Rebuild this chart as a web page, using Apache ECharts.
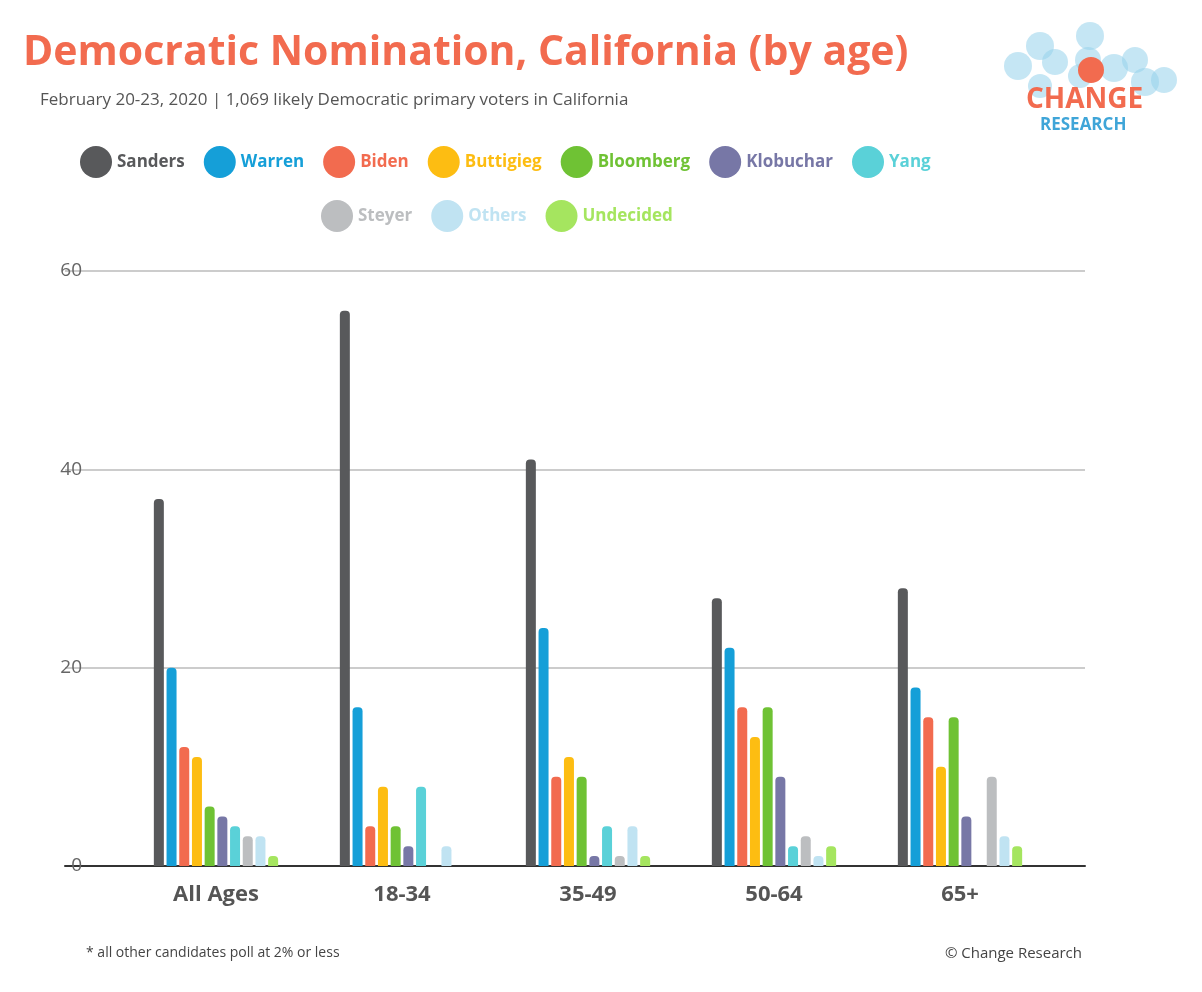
<!DOCTYPE html>
<html><head><meta charset="utf-8">
<script src="https://cdn.jsdelivr.net/npm/echarts@6/dist/echarts.min.js"></script>
<style>html,body{margin:0;padding:0;background:#fff}#c{width:1202px;height:992px}</style>
</head><body><div id="c"></div>
<script>
const categories = ['All Ages','18-34','35-49','50-64','65+'];
const candidates = ['Sanders','Warren','Biden','Buttigieg','Bloomberg','Klobuchar','Yang','Steyer','Others','Undecided'];
const Sanders   = [37,56,41,27,28];
const Warren    = [20,16,24,22,18];
const Biden     = [12,4,9,16,15];
const Buttigieg = [11,8,11,13,10];
const Bloomberg = [6,4,9,16,15];
const Klobuchar = [5,2,1,9,5];
const Yang      = [4,8,4,2,0];
const Steyer    = [3,0,1,3,9];
const Others    = [3,2,4,1,3];
const Undecided = [1,0,1,2,2];
const yTicks = [0,20,40,60];
const values = [Sanders,Warren,Biden,Buttigieg,Bloomberg,Klobuchar,Yang,Steyer,Others,Undecided];
const colors = ['#58595b','#159fd8','#f26b4f','#fdbd12','#6fc234','#7777a6','#5ad1d8','#bcbec0','#c0e3f2','#a5e55f'];
const F = '"Open Sans"';

const series = candidates.map((n,i)=>({
  name:n, type:'bar', xAxisIndex:1, yAxisIndex:1, data:values[i],
  barWidth:10, barGap:'27%', itemStyle:{color:colors[i], borderRadius:[4,4,0,0]}
}));
series.push({type:'bar',xAxisIndex:0,yAxisIndex:0,data:[],silent:true});

const legendText = (i)=>({color:colors[i],fontWeight:'bold',fontSize:17,fontFamily:F});
const legItem = (i)=>({name:candidates[i],textStyle:legendText(i)});

const bubbles = [[1018,66,14],[1040,46,14],[1055,62,13],[1090,36,14],[1088,60,13],[1080,76,12],[1114,68,14],[1135,60,13],[1145,82,14],[1164,80,13],[1040,86,12]];
const graphic = bubbles.map(b=>({type:'circle',shape:{cx:b[0],cy:b[1],r:b[2]},style:{fill:'rgba(150,210,235,0.55)'}}));
graphic.push({type:'circle',shape:{cx:1091,cy:70,r:13},style:{fill:'#f26b4f'}});
graphic.push({type:'text',left:1026,top:86,style:{text:'CHANGE',fill:'#f26b4f',font:'bold 28px '+F}});
graphic.push({type:'text',left:1040,top:117,style:{text:'RESEARCH',fill:'#3fa5d8',font:'bold 17px '+F}});
graphic.push({type:'text',left:40,top:92,style:{text:'February 20-23, 2020 | 1,069 likely Democratic primary voters in California',fill:'#555',font:'17px '+F}});
graphic.push({type:'text',left:86,top:946,style:{text:'* all other candidates poll at 2% or less',fill:'#444',font:'14px '+F}});
graphic.push({type:'text',right:120,top:946,style:{text:'© Change Research',fill:'#444',font:'15px '+F}});

const chart = echarts.init(document.getElementById('c'));
chart.setOption({
  animation:false,
  title:{text:'Democratic Nomination, California (by age)',left:18,top:28,textStyle:{color:'#f26b4f',fontSize:41,fontWeight:'bold',fontFamily:F}},
  legend:[
    {left:75,top:141,itemWidth:32,itemHeight:32,icon:'circle',itemGap:19,data:[0,1,2,3,4,5,6].map(legItem)},
    {left:316,top:195,itemWidth:32,itemHeight:32,icon:'circle',itemGap:19,data:[7,8,9].map(legItem)}
  ],
  grid:[
    {left:65,right:117,top:271,bottom:126},
    {left:123,right:149,top:271,bottom:126}
  ],
  xAxis:[
    {type:'category',gridIndex:0,data:[''],axisLine:{lineStyle:{color:'#333',width:2}},axisTick:{show:false},axisLabel:{show:false}},
    {type:'category',gridIndex:1,data:categories,axisLine:{show:false},axisTick:{show:false},
     axisLabel:{color:'#555',fontSize:22,fontWeight:'bold',fontFamily:F,margin:18}}
  ],
  yAxis:[
    {type:'value',gridIndex:0,min:0,max:60,interval:20,axisLine:{show:false},axisTick:{show:false},
     splitLine:{lineStyle:{color:'#ccc',width:2}},axisLabel:{color:'#666',fontSize:19,margin:-17,align:'right',fontFamily:F}},
    {type:'value',gridIndex:1,min:0,max:60,interval:20,show:false,splitLine:{show:false}}
  ],
  series:series,
  graphic:graphic
});
</script></body></html>
